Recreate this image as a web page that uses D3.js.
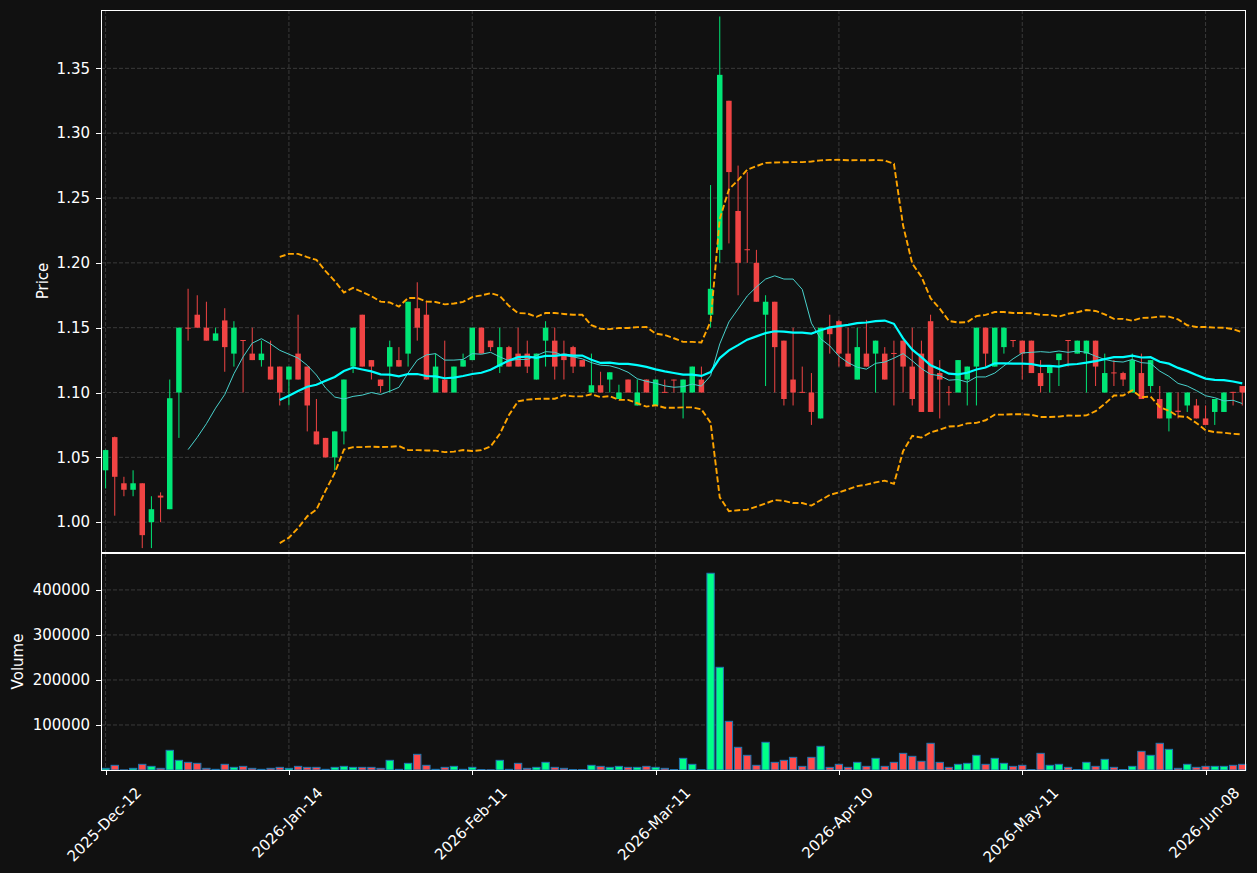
<!DOCTYPE html>
<html>
<head>
<meta charset="utf-8">
<script src="https://cdn.jsdelivr.net/npm/d3@7/dist/d3.min.js"></script>
<style>
  body { margin: 0; background: #111111; }
  svg { display: block; font-family: "DejaVu Sans", sans-serif; }
</style>
</head>
<body>
<div id="chart"></div>
<script>
// OHLC + volume, one entry per trading session (index based x axis)
const opens = [
  1.040, 1.0656, 1.030, 1.025, 1.030, 1.000, 1.0205, 1.010, 1.100, 1.150,
  1.160, 1.150, 1.140, 1.1556, 1.130, 1.1405, 1.130, 1.125, 1.120, 1.120,
  1.110, 1.130, 1.120, 1.070, 1.065, 1.050, 1.070, 1.120, 1.160, 1.125,
  1.110, 1.120, 1.125, 1.130, 1.165, 1.160, 1.100, 1.110, 1.100, 1.120,
  1.125, 1.150, 1.140, 1.120, 1.135, 1.130, 1.130, 1.110, 1.140, 1.140,
  1.130, 1.135, 1.125, 1.100, 1.1056, 1.110, 1.095, 1.110, 1.090, 1.110,
  1.090, 1.1005, 1.110, 1.100, 1.100, 1.110, 1.160, 1.210, 1.325, 1.240,
  1.2105, 1.200, 1.160, 1.170, 1.140, 1.110, 1.1005, 1.100, 1.080, 1.150,
  1.155, 1.130, 1.110, 1.130, 1.130, 1.130, 1.1305, 1.140, 1.120, 1.130,
  1.155, 1.115, 1.1005, 1.100, 1.110, 1.120, 1.150, 1.120, 1.135, 1.1405,
  1.140, 1.140, 1.115, 1.115, 1.125, 1.1405, 1.130, 1.130, 1.140, 1.100,
  1.1155, 1.115, 1.100, 1.115, 1.105, 1.095, 1.080, 1.086, 1.090, 1.090,
  1.080, 1.085, 1.085, 1.1005, 1.105
];
const highs = [
  1.056, 1.066, 1.035, 1.040, 1.030, 1.020, 1.023, 1.110, 1.150, 1.180,
  1.175, 1.170, 1.150, 1.165, 1.155, 1.1405, 1.150, 1.140, 1.140, 1.120,
  1.120, 1.160, 1.120, 1.095, 1.065, 1.070, 1.110, 1.150, 1.160, 1.125,
  1.110, 1.140, 1.135, 1.170, 1.185, 1.170, 1.130, 1.140, 1.120, 1.130,
  1.150, 1.150, 1.140, 1.150, 1.136, 1.150, 1.140, 1.130, 1.155, 1.150,
  1.140, 1.136, 1.125, 1.130, 1.116, 1.1156, 1.106, 1.110, 1.110, 1.110,
  1.110, 1.110, 1.110, 1.110, 1.120, 1.120, 1.260, 1.390, 1.325, 1.275,
  1.270, 1.210, 1.175, 1.170, 1.140, 1.150, 1.120, 1.115, 1.150, 1.160,
  1.156, 1.150, 1.150, 1.156, 1.140, 1.135, 1.140, 1.140, 1.150, 1.140,
  1.160, 1.125, 1.105, 1.125, 1.120, 1.150, 1.150, 1.150, 1.150, 1.1405,
  1.140, 1.140, 1.125, 1.120, 1.130, 1.1405, 1.140, 1.140, 1.140, 1.130,
  1.125, 1.116, 1.130, 1.130, 1.125, 1.105, 1.100, 1.100, 1.100, 1.095,
  1.090, 1.095, 1.100, 1.1005, 1.105
];
const lows = [
  1.026, 1.005, 1.020, 1.020, 0.980, 0.980, 1.000, 1.010, 1.065, 1.140,
  1.150, 1.140, 1.140, 1.116, 1.120, 1.100, 1.125, 1.120, 1.110, 1.090,
  1.090, 1.110, 1.070, 1.060, 1.050, 1.040, 1.060, 1.115, 1.120, 1.110,
  1.100, 1.100, 1.120, 1.120, 1.140, 1.110, 1.100, 1.100, 1.100, 1.120,
  1.125, 1.130, 1.132, 1.115, 1.120, 1.120, 1.115, 1.110, 1.120, 1.110,
  1.110, 1.115, 1.120, 1.100, 1.100, 1.100, 1.095, 1.100, 1.090, 1.100,
  1.090, 1.100, 1.100, 1.080, 1.100, 1.100, 1.150, 1.200, 1.215, 1.175,
  1.200, 1.170, 1.105, 1.100, 1.090, 1.090, 1.100, 1.075, 1.080, 1.130,
  1.120, 1.120, 1.110, 1.120, 1.100, 1.110, 1.090, 1.100, 1.090, 1.085,
  1.085, 1.080, 1.090, 1.100, 1.090, 1.090, 1.120, 1.120, 1.130, 1.135,
  1.110, 1.115, 1.100, 1.100, 1.105, 1.120, 1.130, 1.100, 1.105, 1.100,
  1.105, 1.105, 1.100, 1.095, 1.100, 1.080, 1.070, 1.080, 1.085, 1.080,
  1.075, 1.075, 1.085, 1.090, 1.090
];
const closes = [
  1.0556, 1.035, 1.025, 1.030, 0.990, 1.010, 1.019, 1.0956, 1.150, 1.1495,
  1.150, 1.140, 1.1456, 1.135, 1.150, 1.140, 1.125, 1.130, 1.110, 1.100,
  1.120, 1.110, 1.090, 1.060, 1.050, 1.070, 1.110, 1.150, 1.120, 1.120,
  1.105, 1.135, 1.120, 1.170, 1.150, 1.110, 1.120, 1.100, 1.120, 1.125,
  1.150, 1.130, 1.135, 1.135, 1.120, 1.120, 1.120, 1.130, 1.150, 1.120,
  1.125, 1.120, 1.120, 1.1056, 1.100, 1.1156, 1.100, 1.100, 1.100, 1.100,
  1.110, 1.100, 1.1095, 1.110, 1.120, 1.100, 1.180, 1.345, 1.270, 1.200,
  1.210, 1.170, 1.170, 1.135, 1.095, 1.100, 1.100, 1.085, 1.150, 1.145,
  1.130, 1.120, 1.135, 1.120, 1.140, 1.110, 1.130, 1.120, 1.095, 1.085,
  1.085, 1.110, 1.100, 1.125, 1.120, 1.150, 1.130, 1.150, 1.150, 1.140,
  1.130, 1.115, 1.105, 1.120, 1.130, 1.140, 1.140, 1.140, 1.120, 1.115,
  1.115, 1.110, 1.125, 1.095, 1.125, 1.080, 1.100, 1.085, 1.100, 1.080,
  1.075, 1.095, 1.100, 1.100, 1.100
];
const volumes = [
  3700, 10400, 300, 3700, 12600, 8100, 3700, 43700, 21500, 17000,
  14800, 3700, 1500, 12600, 5900, 8100, 3700, 1500, 3700, 5900,
  3700, 8100, 5900, 5900, 1500, 5900, 8100, 5900, 5900, 5900,
  3700, 21500, 1500, 14800, 34800, 10400, 1500, 5900, 8100, 1500,
  5900, 1000, 500, 21500, 1500, 14800, 3700, 5900, 17000, 5900,
  3700, 1000, 1000, 10400, 8100, 5900, 8100, 5900, 5900, 8100,
  5900, 3700, 1000, 25900, 12600, 1000, 437000, 228100, 108100, 50400,
  32600, 10400, 61500, 17000, 21500, 28100, 8100, 28100, 52600, 5900,
  12600, 5900, 17000, 8100, 25900, 8100, 17000, 37000, 30400, 19300,
  59300, 17000, 5900, 12600, 14800, 32600, 12600, 25900, 14800, 8100,
  10400, 1000, 37000, 10400, 12600, 5900, 1000, 17000, 8100, 23700,
  5900, 1000, 8100, 41500, 32600, 59300, 45900, 3700, 12600, 5900,
  8100, 8100, 8100, 10400, 12600
];
const tickPositions = [0, 20, 40, 60, 80, 100, 120];
const tickLabels = ["2025-Dec-12", "2026-Jan-14", "2026-Feb-11", "2026-Mar-11",
                    "2026-Apr-10", "2026-May-11", "2026-Jun-08"];
const priceTicks = [1.00, 1.05, 1.10, 1.15, 1.20, 1.25, 1.30, 1.35];
const volumeTicks = [100000, 200000, 300000, 400000];

const W = 1257, H = 873;
const left = 101, right = 1245;
const pTop = 10, pBottom = 552, vTop = 553, vBottom = 770;
const n = closes.length;
const fontSize = "15px";

const upColor = "#00e676", downColor = "#f04444";
const upVol = "#00ff88", downVol = "#ff4a4a";
const gridColor = "#3a3a3a";

const svg = d3.select("#chart").append("svg")
    .attr("width", W)
    .attr("height", H)
    .style("background", "#111111");

const x = d3.scaleLinear().domain([-0.5, n - 1 + 0.3]).range([left, right]);
const step = x(1) - x(0);
const yP = d3.scaleLinear().domain([0.977, 1.395]).range([pBottom, pTop]);
const yV = d3.scaleLinear().domain([0, d3.max(volumes) * 1.103]).range([vBottom, vTop]);

// rolling mean / std over closes (SMA 10, SMA 20 and 2 sigma bands)
function rolling(arr, len, fn) {
    return arr.map((d, i) => i < len - 1 ? null : fn(arr.slice(i - len + 1, i + 1)));
}
const sma10 = rolling(closes, 10, w => d3.mean(w));
const sma20 = rolling(closes, 20, w => d3.mean(w));
const sd20 = rolling(closes, 20, w => {
    const m = d3.mean(w);
    return Math.sqrt(d3.mean(w, v => (v - m) * (v - m)));
});
const upper = sma20.map((m, i) => m === null ? null : m + 2 * sd20[i]);
const lower = sma20.map((m, i) => m === null ? null : m - 2 * sd20[i]);

// grid
const grid = svg.append("g")
    .attr("stroke", gridColor)
    .attr("stroke-width", 1)
    .attr("stroke-dasharray", "4,2");
priceTicks.forEach(t => {
    grid.append("line").attr("x1", left).attr("x2", right)
        .attr("y1", yP(t)).attr("y2", yP(t));
});
volumeTicks.forEach(t => {
    grid.append("line").attr("x1", left).attr("x2", right)
        .attr("y1", yV(t)).attr("y2", yV(t));
});
tickPositions.forEach(t => {
    grid.append("line").attr("x1", x(t)).attr("x2", x(t)).attr("y1", pTop).attr("y2", pBottom);
    grid.append("line").attr("x1", x(t)).attr("x2", x(t)).attr("y1", vTop).attr("y2", vBottom);
});

// candles
const idx = d3.range(n);
const candles = svg.append("g");
candles.selectAll(".wick")
    .data(idx)
    .join("line")
    .attr("x1", i => x(i)).attr("x2", i => x(i))
    .attr("y1", i => yP(highs[i])).attr("y2", i => yP(lows[i]))
    .attr("stroke", i => closes[i] >= opens[i] ? upColor : downColor)
    .attr("stroke-width", 1);
const bw = step * 0.6;
candles.selectAll(".body")
    .data(idx)
    .join("rect")
    .attr("x", i => x(i) - bw / 2)
    .attr("width", bw)
    .attr("y", i => yP(Math.max(opens[i], closes[i])))
    .attr("height", i => Math.max(1, Math.abs(yP(opens[i]) - yP(closes[i]))))
    .attr("fill", i => closes[i] >= opens[i] ? upColor : downColor);

// indicator lines
const lineGen = d3.line()
    .defined(d => d !== null)
    .x((d, i) => x(i))
    .y(d => yP(d));
svg.append("path").datum(sma10)
    .attr("fill", "none").attr("stroke", "#48d1cc").attr("stroke-width", 1)
    .attr("d", lineGen);
svg.append("path").datum(sma20)
    .attr("fill", "none").attr("stroke", "#00ffff").attr("stroke-width", 2.2)
    .attr("d", lineGen);
[upper, lower].forEach(band => {
    svg.append("path").datum(band)
        .attr("fill", "none").attr("stroke", "#ffa500").attr("stroke-width", 1.9)
        .attr("stroke-dasharray", "6,2.6")
        .attr("d", lineGen);
});

// volume bars
const vw = step * 0.8;
svg.append("g").selectAll("rect")
    .data(idx)
    .join("rect")
    .attr("x", i => x(i) - vw / 2)
    .attr("width", vw)
    .attr("y", i => yV(volumes[i]))
    .attr("height", i => vBottom - yV(volumes[i]))
    .attr("fill", i => closes[i] >= opens[i] ? upVol : downVol)
    .attr("stroke", "#1f77b4")
    .attr("stroke-width", 1);

// spines
[[pTop, pBottom], [vTop, vBottom]].forEach(([t, b]) => {
    svg.append("rect")
        .attr("x", left).attr("y", t)
        .attr("width", right - left).attr("height", b - t)
        .attr("fill", "none").attr("stroke", "#ffffff").attr("stroke-width", 1)
        .attr("shape-rendering", "crispEdges");
});

// axes
function styleAxis(g) {
    g.select(".domain").remove();
    g.selectAll(".tick line").attr("stroke", "#ffffff").attr("shape-rendering", "crispEdges");
    g.selectAll(".tick text").attr("fill", "#ffffff").style("font-size", fontSize)
        .style("font-family", "DejaVu Sans, sans-serif");
}
svg.append("g")
    .attr("transform", `translate(${left},0)`)
    .call(d3.axisLeft(yP).tickValues(priceTicks).tickFormat(d3.format(".2f")).tickSize(5).tickPadding(6))
    .call(styleAxis);
svg.append("g")
    .attr("transform", `translate(${left},0)`)
    .call(d3.axisLeft(yV).tickValues(volumeTicks).tickFormat(d3.format("d")).tickSize(5).tickPadding(6))
    .call(styleAxis);

const xAxis = svg.append("g")
    .attr("transform", `translate(0,${vBottom})`)
    .call(d3.axisBottom(x).tickValues(tickPositions).tickFormat((d, i) => tickLabels[i]).tickSize(5))
    .call(styleAxis);
xAxis.selectAll(".tick text").each(function () {
    const t = d3.select(this);
    const L = this.getComputedTextLength();
    const bh = (L + 17) * Math.SQRT1_2;
    t.attr("text-anchor", "middle")
        .attr("dy", "0.35em")
        .attr("y", 0)
        .attr("transform", `translate(-2,${14 + bh / 2}) rotate(-45)`);
});

// axis titles
svg.append("text")
    .attr("transform", `translate(43,${(pTop + pBottom) / 2}) rotate(-90)`)
    .attr("text-anchor", "middle").attr("dy", "0.35em")
    .attr("fill", "#ffffff").style("font-size", fontSize)
    .text("Price");
svg.append("text")
    .attr("transform", `translate(18,${(vTop + vBottom) / 2}) rotate(-90)`)
    .attr("text-anchor", "middle").attr("dy", "0.35em")
    .attr("fill", "#ffffff").style("font-size", fontSize)
    .text("Volume");
</script>
</body>
</html>
